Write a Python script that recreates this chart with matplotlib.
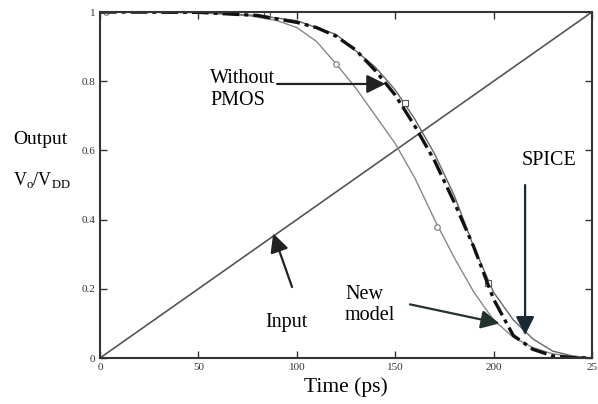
import numpy as np
import matplotlib
matplotlib.use("Agg")
import matplotlib.pyplot as plt

# ---------- data ----------
# input ramp
input_t = [0, 250]
input_v = [0, 1]

# thin curve with circles (leftmost output)
thin_t = [0, 50, 75, 90, 100, 110, 120, 130, 140, 150, 160, 170, 180, 190, 200, 210, 220, 230, 240, 250]
thin_v = [1, 0.998, 0.99, 0.975, 0.955, 0.915, 0.85, 0.78, 0.70, 0.62, 0.52, 0.40, 0.29, 0.19, 0.11,
          0.06, 0.03, 0.012, 0.004, 0.0]
circ_t = [3, 120, 171]
circ_v = [1.0, 0.85, 0.38]

# new model (thick dash-dot)
model_t = [0, 50, 80, 100, 110, 120, 130, 140, 150, 160, 170, 180, 190, 200, 210, 220, 230, 240, 250]
model_v = [1, 0.999, 0.99, 0.97, 0.955, 0.93, 0.89, 0.83, 0.76, 0.67, 0.57, 0.45, 0.32, 0.17, 0.065,
           0.025, 0.006, 0.001, 0.0]

# SPICE (thin solid, with squares)
spice_t = [0, 50, 80, 100, 120, 140, 150, 160, 170, 180, 190, 200, 210, 220, 230, 240, 250]
spice_v = [1, 0.999, 0.99, 0.975, 0.935, 0.84, 0.775, 0.69, 0.59, 0.47, 0.32, 0.19, 0.11, 0.055,
           0.02, 0.006, 0.0]
sq_t = [85, 155, 197]
sq_v = [0.99, 0.737, 0.217]

xticks = [0, 50, 100, 150, 200, 250]
xtick_labels = ["0", "50", "100", "150", "200", "25"]
yticks = [0, 0.2, 0.4, 0.6, 0.8, 1]
ytick_labels = ["0", "0.2", "0.4", "0.6", "0.8", "1"]
# ----------------------------------------------

plt.rcParams["font.family"] = "Liberation Serif"
plt.rcParams["mathtext.fontset"] = "custom"
plt.rcParams["mathtext.rm"] = "Liberation Serif"
FS = 14.5

fig = plt.figure(figsize=(5.98, 4.04), dpi=100)
ax = fig.add_axes([100/598, 46/404, 492/598, 346/404])

ax.plot(input_t, input_v, color="#555555", lw=1.2)
ax.plot(thin_t, thin_v, color="#888888", lw=1.0)
ax.plot(circ_t, circ_v, ls="none", marker="o", ms=4, mfc="white", mec="#777777", mew=0.8)
ax.plot(spice_t, spice_v, color="#666666", lw=1.0)
ax.plot(sq_t, sq_v, ls="none", marker="s", ms=4.5, mfc="white", mec="#555555", mew=0.8)
ax.plot(model_t, model_v, color="#111111", lw=2.4, dashes=(5, 1.5, 1.2, 1.5))

ax.set_xlim(0, 250)
ax.set_ylim(0, 1)
ax.set_xticks(xticks)
ax.set_xticklabels(xtick_labels)
ax.set_yticks(yticks)
ax.set_yticklabels(ytick_labels)
ax.tick_params(direction="in", length=5, width=1, labelsize=8, top=True, right=True,
               colors="#333333")
for s in ax.spines.values():
    s.set_linewidth(1.5)
    s.set_color("#333333")

ax.set_xlabel("Time (ps)", fontsize=15.5, labelpad=4)
fig.text(13/598, 1 - 140/404, "Output", fontsize=14, va="center", ha="left")
fig.text(13/598, 1 - 180/404, r"V$_\mathrm{o}$/V$_\mathrm{DD}$", fontsize=13, va="center", ha="left")

arrow = dict(arrowstyle="-|>", mutation_scale=28, lw=1.6, color="#222222", shrinkA=0, shrinkB=0)

# Without PMOS
ax.text(56, 0.775, "Without\nPMOS", fontsize=FS, ha="left", va="center", linespacing=1.2)
ax.annotate("", xy=(145, 0.792), xytext=(90, 0.792), arrowprops=arrow)

# SPICE
ax.text(228, 0.572, "SPICE", fontsize=FS, ha="center", va="center")
ax.annotate("", xy=(216, 0.066), xytext=(216, 0.5), arrowprops=dict(arrow, color="#1a2a33"))

# Input
ax.text(84, 0.104, "Input", fontsize=FS, ha="left", va="center")
ax.annotate("", xy=(88, 0.36), xytext=(97.6, 0.205), arrowprops=arrow)

# New model
ax.text(124.5, 0.153, "New\nmodel", fontsize=FS, ha="left", va="center", linespacing=1.15)
ax.annotate("", xy=(203, 0.1), xytext=(157.5, 0.155), arrowprops=dict(arrow, color="#22332e"))

fig.savefig("out.png", dpi=100)
